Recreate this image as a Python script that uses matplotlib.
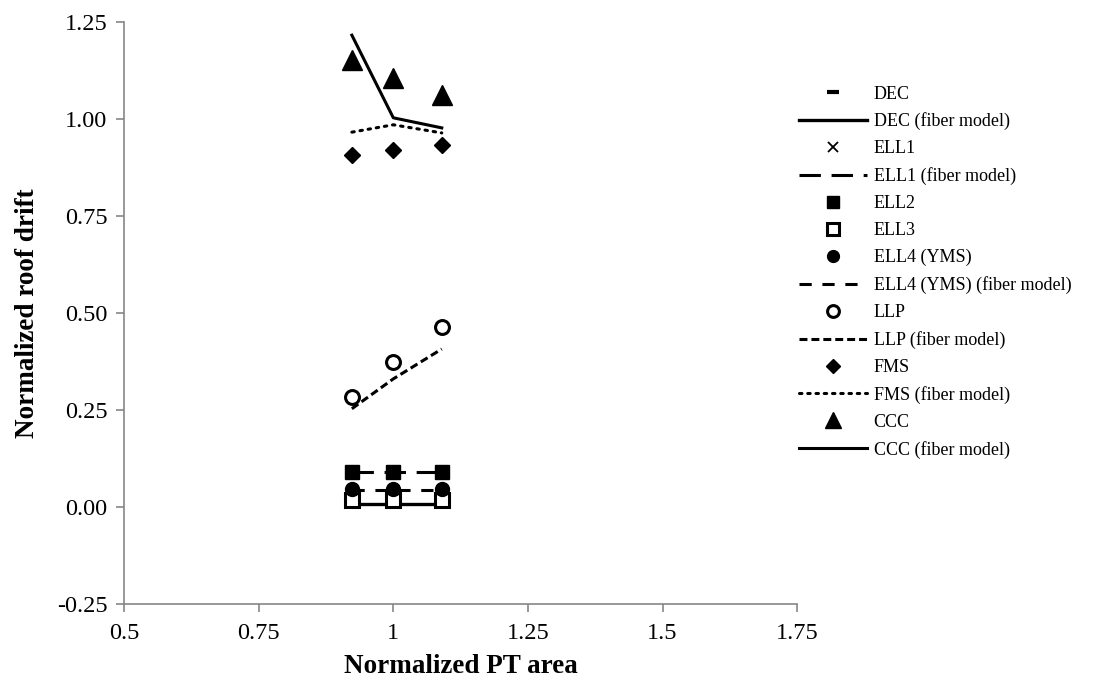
import matplotlib
matplotlib.use("Agg")
import matplotlib.pyplot as plt

plt.rcParams['font.family'] = ['Liberation Serif', 'DejaVu Serif']

x = [0.923, 1.0, 1.09]

dec = [0.010, 0.010, 0.010]
dec_fiber = [0.008, 0.008, 0.008]
ell1 = [0.088, 0.088, 0.088]
ell1_fiber = [0.091, 0.091, 0.091]
ell2 = [0.091, 0.091, 0.091]
ell3 = [0.018, 0.018, 0.018]
ell4 = [0.045, 0.045, 0.045]
ell4_fiber = [0.044, 0.044, 0.044]
llp = [0.284, 0.374, 0.465]
llp_fiber = [0.253, 0.330, 0.407]
fms = [0.907, 0.920, 0.933]
fms_fiber = [0.966, 0.985, 0.964]
ccc = [1.152, 1.106, 1.062]
ccc_fiber = [1.216, 1.003, 0.977]

xticks = [0.5, 0.75, 1.0, 1.25, 1.5, 1.75]
xticklabels = ['0.5', '0.75', '1', '1.25', '1.5', '1.75']
yticks = [-0.25, 0.0, 0.25, 0.5, 0.75, 1.0, 1.25]

fig = plt.figure(figsize=(11.18, 6.87), dpi=100)
ax = fig.add_axes([0.111, 0.121, 0.602, 0.847])

k = 'black'
h = []
h += ax.plot(x, dec, ls='none', marker='_', ms=10, mew=3, color=k, label='DEC')
h += ax.plot(x, dec_fiber, ls='-', lw=2.4, color=k, label='DEC (fiber model)')
h += ax.plot(x, ell1, ls='none', marker='x', ms=8, mew=1.3, color=k, label='ELL1')
h += ax.plot(x, ell1_fiber, ls=(0, (7, 3.5)), lw=2.2, color=k, label='ELL1 (fiber model)')
h += ax.plot(x, ell2, ls='none', marker='s', ms=10, color=k, label='ELL2')
h += ax.plot(x, ell3, ls='none', marker='s', ms=10, mfc='white', mec=k, mew=2.2, label='ELL3')
h += ax.plot(x, ell4, ls='none', marker='o', ms=10, color=k, label='ELL4 (YMS)')
h += ax.plot(x, ell4_fiber, ls=(0, (4, 3.5)), lw=2.2, color=k, label='ELL4 (YMS) (fiber model)')
h += ax.plot(x, llp, ls='none', marker='o', ms=10, mfc='white', mec=k, mew=2.2, label='LLP')
h += ax.plot(x, llp_fiber, ls=(0, (2.6, 1.3)), lw=2.2, color=k, label='LLP (fiber model)')
h += ax.plot(x, fms, ls='none', marker='D', ms=8, color=k, label='FMS')
h += ax.plot(x, fms_fiber, ls=(0, (0.8, 1.9)), lw=2.2, color=k, dash_capstyle='round', label='FMS (fiber model)')
h += ax.plot(x, ccc, ls='none', marker='^', ms=14, color=k, label='CCC')
h += ax.plot(x, ccc_fiber, ls='-', lw=2.2, color=k, label='CCC (fiber model)')

ax.set_xlim(0.5, 1.75)
ax.set_ylim(-0.25, 1.25)
ax.set_xticks(xticks)
ax.set_xticklabels(xticklabels)
ax.set_yticks(yticks)
ax.set_yticklabels([f'{v:.2f}' for v in yticks])

for s in ['top', 'right']:
    ax.spines[s].set_visible(False)
for s in ['left', 'bottom']:
    ax.spines[s].set_color('#868686')
    ax.spines[s].set_linewidth(1.2)
ax.tick_params(axis='both', direction='out', length=6, width=1.2, color='#868686',
               labelsize=17.5, labelcolor='black')
ax.tick_params(axis='x', pad=8)
ax.tick_params(axis='y', pad=6)

ax.set_xlabel('Normalized PT area', fontsize=19.5, fontweight='bold', labelpad=7)
ax.set_ylabel('Normalized roof drift', fontsize=19.5, fontweight='bold', labelpad=12)

leg = fig.legend(handles=h, loc='upper left', bbox_to_anchor=(0.708, 0.886),
                 frameon=False, fontsize=13, handlelength=3.8, handletextpad=0.35,
                 labelspacing=0.55, markerscale=0.85, borderaxespad=0)

fig.savefig('out.png', dpi=100)
